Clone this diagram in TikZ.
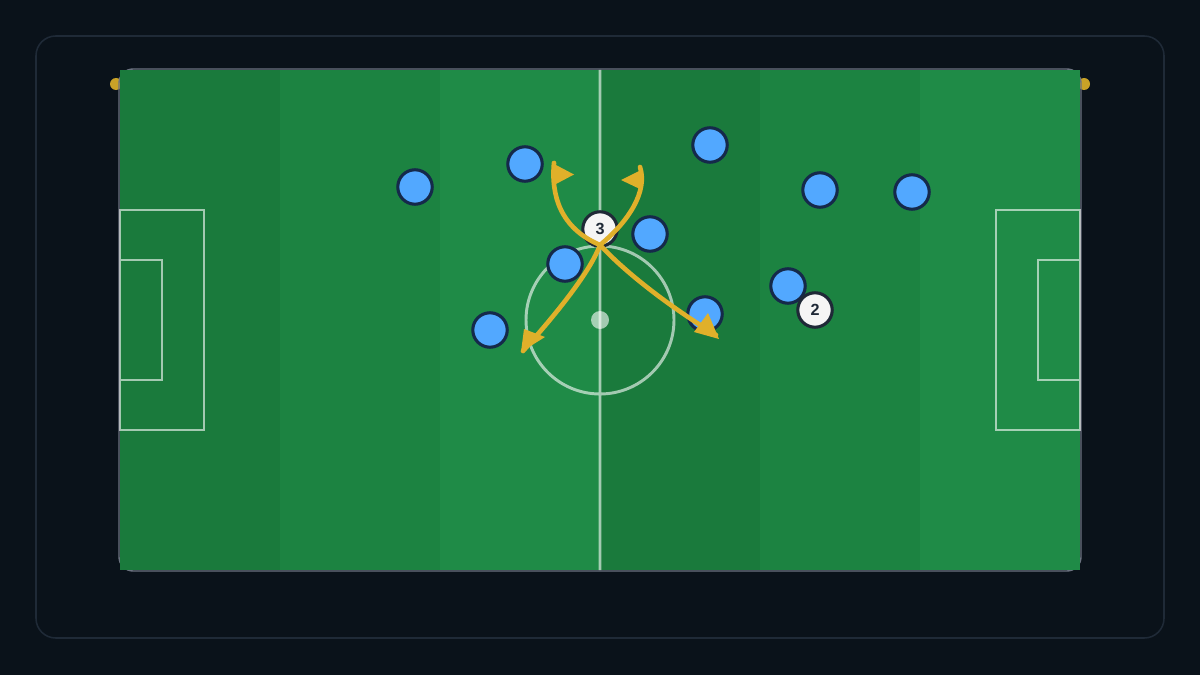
\documentclass[tikz,border=0pt]{standalone}
\usepackage{fontspec}
\setmainfont{Liberation Sans}
\definecolor{bgnavy}{HTML}{0A121A}
\definecolor{framegray}{HTML}{1F2A37}
\definecolor{edgegray}{HTML}{6B7280}
\definecolor{postgold}{HTML}{C9A227}
\definecolor{grassA}{HTML}{1A7A3C}
\definecolor{grassB}{HTML}{1C8341}
\definecolor{grassC}{HTML}{1F8B47}
\definecolor{plblue}{HTML}{52A8FF}
\definecolor{plnavy}{HTML}{15294A}
\definecolor{ballink}{HTML}{1F2937}
\definecolor{runyellow}{HTML}{E0B02A}
\tikzset{
 player/.style={circle,fill=plblue,draw=plnavy,line width=2.2pt,minimum size=24.5pt,inner sep=0pt},
 ball/.style={circle,fill=gray!8,draw=ballink,line width=2.2pt,minimum size=24.5pt,inner sep=0pt,
   text=ballink,font=\bfseries\fontsize{11.5}{12}\selectfont},
 markline/.style={draw=white,draw opacity=.6,line width=2.1pt},
 run/.style={draw=runyellow,line width=3.3pt,line cap=round}
}

\begin{document}
\begin{tikzpicture}[x=0.025cm,y=-0.025cm]
\fill[bgnavy] (0,0) rectangle (1200,675);
\useasboundingbox (0,0) rectangle (1200,675);
\draw[framegray,line width=1.1pt,rounded corners=14pt] (36,36) rectangle (1164,638);
% goal posts
\fill[postgold] (116,84) circle (6) (1084,84) circle (6);
\draw[edgegray,line width=1pt,rounded corners=10pt] (119,69) rectangle (1081,571);
% grass stripes
\foreach \x/\c in {120/grassA,280/grassB,440/grassC,600/grassA,760/grassB,920/grassC}
 \fill[\c] (\x,70) rectangle ++(160,500);
% markings
\draw[markline] (600,70) -- (600,570) (600,320) circle (74);
\fill[white,opacity=.6] (600,320) circle (9);
\draw[markline] (120,210) rectangle (204,430) (120,260) rectangle (162,380);
\draw[markline] (1080,210) rectangle (996,430) (1080,260) rectangle (1038,380);
% players
\foreach \x/\y [count=\i] in {415/187,525/164,710/145,820/190,912/192,650/234,565/264,490/330,705/314,788/286}
 \node[player] (p\i) at (\x,\y) {};
\node[ball] (b3) at (600,229) {3};
\node[ball] (b2) at (815,310) {2};
% runs
\coordinate (kick) at (600,245);
\coordinate (tl) at (554,163);
\coordinate (tr) at (640,167);
\coordinate (bl) at (523,351);
\coordinate (br) at (716,335);
\draw[run] (kick) .. controls (560,228) and (551,195) .. (tl);
\draw[run] (kick) .. controls (628,222) and (648,192) .. (tr);
\draw[run] (kick) .. controls (590,272) and (557,313) .. (bl);
\draw[run] (kick) .. controls (628,275) and (672,308) .. (br);
\fill[runyellow] (556,165) -- (574,174.5) -- (556,184) -- cycle;
\fill[runyellow] (641,170) -- (621,180) -- (642,190) -- cycle;
\fill[runyellow] (524,329) -- (545,337) -- (521,352) -- cycle;
\fill[runyellow] (708,313) -- (719,339) -- (694,332) -- cycle;
\end{tikzpicture}
\end{document}
